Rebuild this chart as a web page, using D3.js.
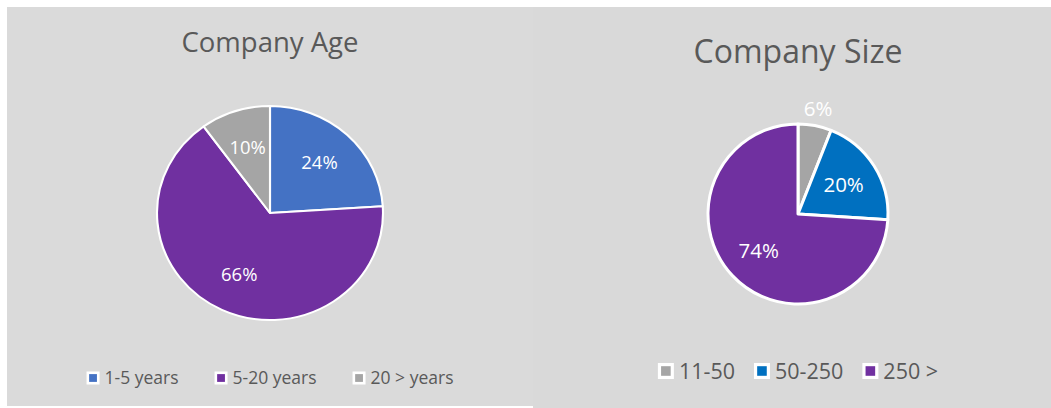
<!DOCTYPE html>
<html>
<head>
<meta charset="utf-8">
<script src="https://cdn.jsdelivr.net/npm/d3@7"></script>
<style>
  body { margin: 0; background: #ffffff; }
  svg { display: block; }
  text { font-family: "Open Sans", sans-serif; }
</style>
</head>
<body>
<svg id="chart"></svg>
<script>
// Company Age
const ageCategories = ["1-5 years", "5-20 years", "20 > years"];
const ageValues = [24, 66, 10];
const ageColors = ["#4472C4", "#7030A0", "#A5A5A5"];

// Company Size
const sizeCategories = ["11-50", "50-250", "250 >"];
const sizeValues = [6, 20, 74];
const sizeColors = ["#A5A5A5", "#0070C0", "#7030A0"];

const W = 1051, H = 408;

const svg = d3.select("#chart")
    .attr("width", W)
    .attr("height", H);

// panel backgrounds
svg.append("rect").attr("x", 7).attr("y", 7).attr("width", 526).attr("height", 399).attr("fill", "#dadada");
svg.append("rect").attr("x", 533).attr("y", 7).attr("width", 518).attr("height", 401).attr("fill", "#d9d9d9");

function drawPie(opts) {
    const { categories, values, colors, cx, cy, r, sx, stroke, title, titleY, titleSize,
            labelSize, labelR, legendY, legendSize, box, legendGap } = opts;

    const color = d3.scaleOrdinal().domain(categories).range(colors);
    const pie = d3.pie().sort(null).value((d) => d.value);
    const arcs = pie(categories.map((c, i) => ({ key: c, value: values[i] })));
    const arc = d3.arc().innerRadius(0).outerRadius(r);

    // title
    svg.append("text")
        .attr("x", cx)
        .attr("y", titleY)
        .attr("text-anchor", "middle")
        .style("font-size", titleSize + "px")
        .attr("fill", "#595959")
        .text(title);

    const g = svg.append("g")
        .attr("transform", "translate(" + cx + "," + cy + ") scale(" + sx + ",1)");

    g.selectAll("path")
        .data(arcs)
        .join("path")
        .attr("d", arc)
        .attr("fill", (d) => color(d.data.key))
        .attr("stroke", "#ffffff")
        .attr("stroke-width", stroke)
        .attr("stroke-linejoin", "round");

    // data labels, small slices go outside
    g.selectAll("text.lbl")
        .data(arcs)
        .join("text")
        .attr("class", "lbl")
        .attr("transform", (d) => {
            const k = d.data.value < 8 ? 1.19 : labelR;
            const p = d3.arc().innerRadius(r * k).outerRadius(r * k).centroid(d);
            return "translate(" + p[0] + "," + p[1] + ")";
        })
        .attr("text-anchor", "middle")
        .attr("dy", "0.36em")
        .style("font-size", labelSize + "px")
        .attr("fill", "#ffffff")
        .text((d) => d.data.value + "%");

    // legend, centred on cx
    const lg = svg.append("g");
    const items = lg.selectAll("g")
        .data(categories)
        .join("g");
    items.append("rect")
        .attr("width", box).attr("height", box)
        .attr("y", -box / 2)
        .attr("fill", "#ffffff");
    items.append("rect")
        .attr("x", box * 0.2).attr("y", -box / 2 + box * 0.2)
        .attr("width", box * 0.6).attr("height", box * 0.6)
        .attr("fill", (d) => color(d));
    items.append("text")
        .attr("x", box + 5)
        .attr("dy", "0.36em")
        .style("font-size", legendSize + "px")
        .attr("fill", "#595959")
        .text((d) => d);

    let x = 0;
    items.each(function () {
        const w = box + 5 + d3.select(this).select("text").node().getComputedTextLength();
        d3.select(this).attr("transform", "translate(" + x + ",0)");
        x += w + legendGap;
    });
    const total = x - legendGap;
    lg.attr("transform", "translate(" + (cx - total / 2) + "," + legendY + ")");
}

drawPie({
    categories: ageCategories, values: ageValues, colors: ageColors,
    cx: 270, cy: 213, r: 107, sx: 1.056, stroke: 2,
    title: "Company Age", titleY: 52, titleSize: 27.5,
    labelSize: 17.5, labelR: 0.64,
    legendY: 378, legendSize: 17.5, box: 13, legendGap: 36
});

drawPie({
    categories: sizeCategories, values: sizeValues, colors: sizeColors,
    cx: 798, cy: 214, r: 90, sx: 1, stroke: 3,
    title: "Company Size", titleY: 63, titleSize: 32,
    labelSize: 20.5, labelR: 0.6,
    legendY: 371, legendSize: 21.5, box: 16, legendGap: 19
});
</script>
</body>
</html>
